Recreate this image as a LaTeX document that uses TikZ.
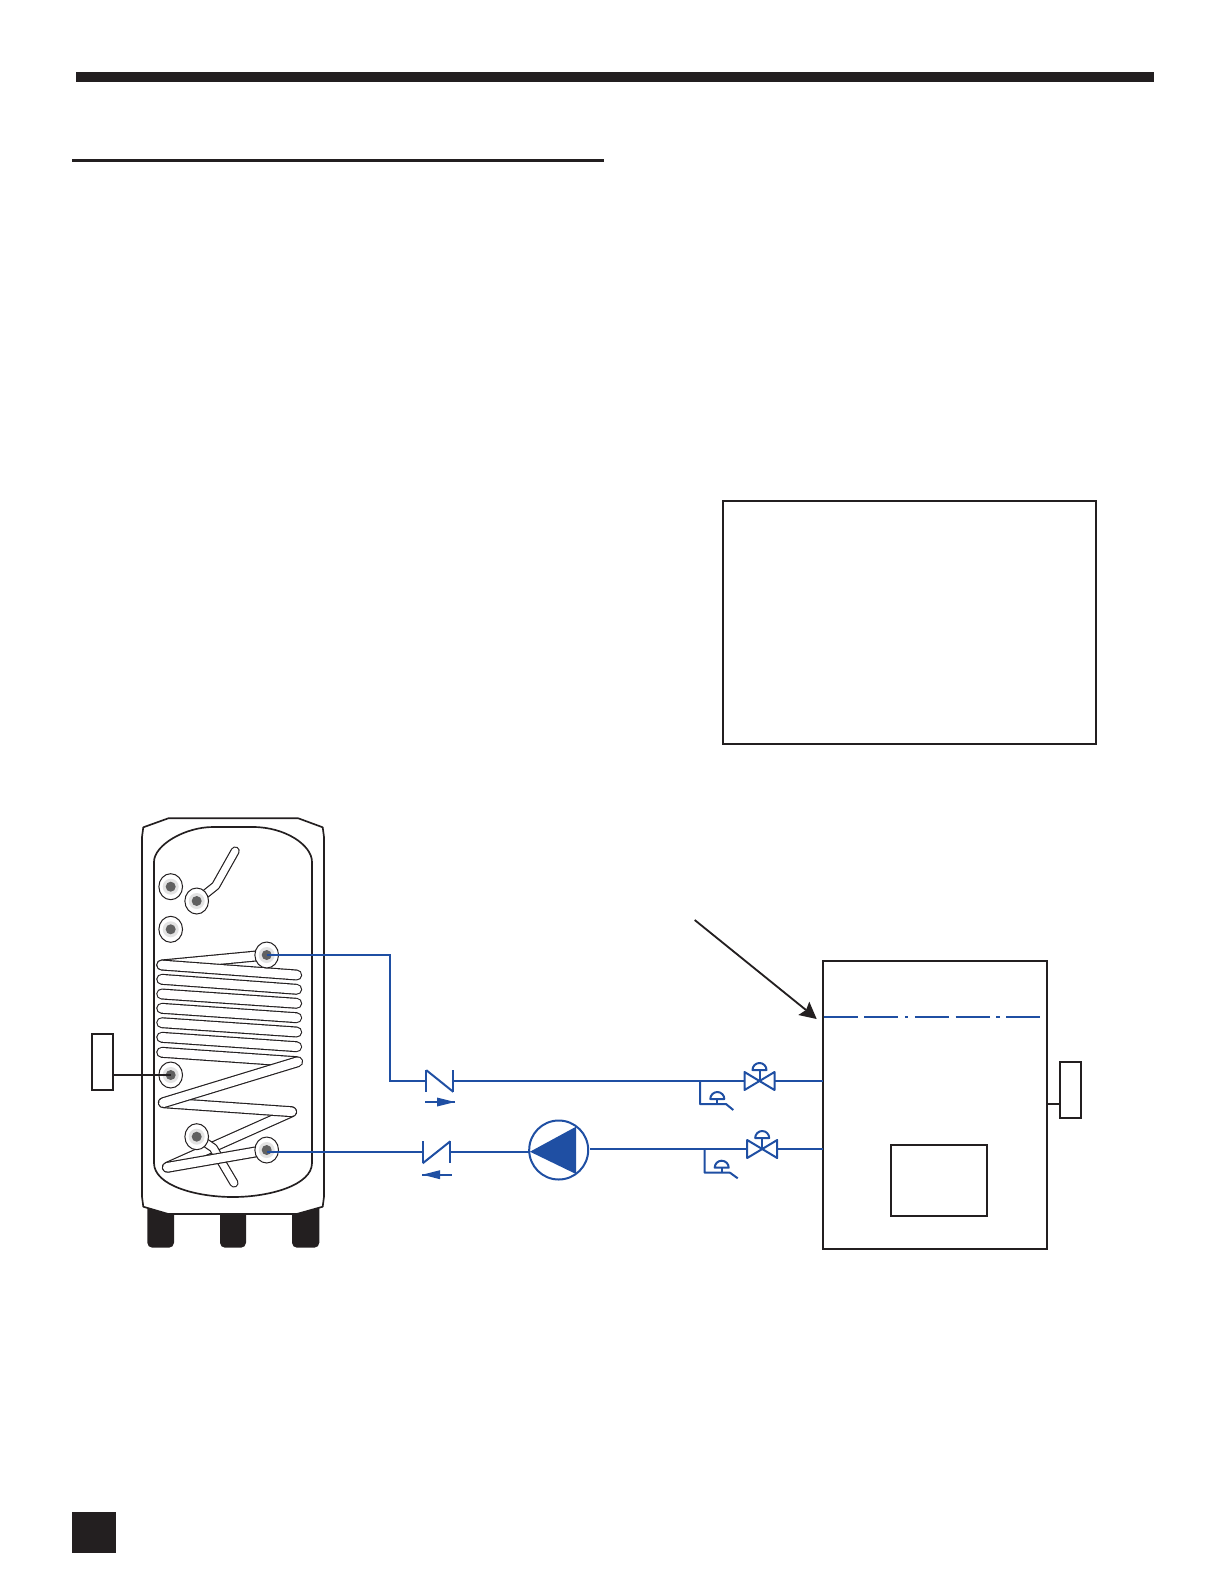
\documentclass[tikz,border=0pt]{standalone}
\usetikzlibrary{shapes.geometric}
\definecolor{ink}{HTML}{231F20}
\definecolor{pipeblue}{HTML}{1F4FA3}
\tikzset{
  box/.style={draw=ink,line width=1.2pt,fill=white,inner sep=0pt,outer sep=0pt},
  pipe/.style={draw=pipeblue,line width=1.2pt},
  sym/.style={draw=pipeblue,line width=1.2pt,line join=round},
  wire/.style={draw=ink,line width=1.2pt},
  tube/.style={draw=ink,double=white,line width=0.7pt,double distance=5.2pt,line cap=round,line join=round},
  diptube/.style={draw=ink,double=white,line width=0.7pt,double distance=4.1pt,line cap=round,line join=round},
  shell/.style={draw=ink,line width=1pt,line join=round},
  portout/.style={ellipse,draw=ink,line width=0.6pt,fill=white,minimum width=14.2pt,minimum height=15.6pt,inner sep=0pt,outer sep=0pt},
  ghost/.style={inner sep=0pt,outer sep=0pt},
  footshape/.style={fill=ink,rounded corners=3pt}
}
\newcommand{\tankport}[3]{%
  \node[portout] (#1) at (#2,#3) {};
  \fill[gray!22] (#1.center) circle[radius=4.8pt];
  \fill[black!62] (#1.center) circle[radius=3pt];
}
\newcommand{\dome}[3]{% name, x, y of flat edge centre
  \coordinate (#1) at (#2,#3);
  \draw[sym] ([xshift=-4.2pt]#1) arc[start angle=180,end angle=0,radius=4.2pt] -- cycle;
}
\newcommand{\gatevalve}[4]{% name, x, y, y of dome
  \node[ghost,minimum width=18pt,minimum height=10.8pt] (#1) at (#2,#3) {};
  \draw[sym] (#1.north west) -- (#1.south east) -- (#1.north east) -- (#1.south west) -- cycle;
  \dome{#1d}{#2}{#4}
  \draw[sym] (#1.center) -- (#1d);
}
\begin{document}
\begin{tikzpicture}[x=0.6pt,y=-0.6pt]
\useasboundingbox (0,0) rectangle (1224,1584);
% page furniture
\fill[ink] (76,72) rectangle (1154,82);
\fill[ink] (72,159.3) rectangle (604,161.8);
\node[box,minimum width=223.8pt,minimum height=145.8pt] (frame) at (909.3,622.5) {};
\fill[ink] (72.3,1512.3) rectangle (116,1552.7);
% feet
\fill[footshape] (147.3,1200) -- (147.3,1247.7) -- (174,1247.7) -- (174,1200) -- cycle;
\fill[footshape] (220,1200) -- (220,1247.7) -- (246,1247.7) -- (246,1200) -- cycle;
\fill[footshape] (292,1200) -- (292,1247.7) -- (319.3,1247.7) -- (319.3,1200) -- cycle;
% tank shell
\draw[shell,fill=white] (168.3,818.3) -- (298.3,818.3) -- (322.7,827.3) -- (324,837) -- (324,1196.7) -- (322.7,1206.7) -- (296.7,1214) -- (168.3,1214) -- (143.3,1206.7) -- (142,1196.7) -- (142,837) -- (143.3,827.3) -- cycle;
\draw[shell,fill=white] (154,1163) -- (154,862) .. controls (154,845) and (185,827) .. (213,827) -- (253,827) .. controls (285,827) and (312,845) .. (312,862) -- (312,1163) .. controls (312,1185) and (270,1197) .. (233,1197) .. controls (195,1197) and (154,1185) .. (154,1163) -- cycle;
% ports positions
\coordinate (p2c) at (196.7,901);
\coordinate (p4c) at (266.7,955);
\coordinate (p6c) at (196.7,1136.7);
\coordinate (p7c) at (266.7,1150);
% dip tube top
\draw[diptube] (p2c) -- (215.7,885.7) -- (235.2,851);
% coil
\draw[tube] (p4c) -- (161.7,965);
\foreach \ya/\yb in {965/975,979.3/989.3,994/1003.3,1008.3/1017.7,1022.7/1032,1037.3/1046.7,1052.3/1061.7}
  \draw[tube] (161.7,\ya) -- (296.7,\yb);
\draw[tube] (291.7,1111.7) -- (167.3,1167.3);
\draw[diptube] (p6c) -- (213.3,1148) -- (234,1183);
\draw[tube] (167.3,1167.3) -- (p7c);
\draw[tube] (163.3,1102.7) -- (291.7,1111.7);
\draw[tube] (297.7,1061.7) -- (163.3,1102.7);
% ports
\tankport{p1}{170.7}{886.7}
\tankport{p2}{196.7}{901}
\tankport{p3}{170.7}{929.3}
\tankport{p4}{266.7}{955}
\tankport{p5}{170.7}{1075}
\tankport{p6}{196.7}{1136.7}
\tankport{p7}{266.7}{1150}
% left sensor box
\node[box,minimum width=12.9pt,minimum height=33.6pt] (sensL) at (102.5,1062) {};
\draw[wire] (sensL.east |- p5.center) -- (p5.center);
% boiler
\node[box,minimum width=134.4pt,minimum height=172.8pt] (boiler) at (935,1105) {};
\node[box,minimum width=57.6pt,minimum height=42.4pt] (burner) at (939,1180.3) {};
\node[box,minimum width=12.6pt,minimum height=33.9pt] (sensR) at (1070.5,1090) {};
\coordinate (sensRa) at (1060,1103.7);
\draw[wire] (boiler.east |- sensRa) -- (sensRa);
\coordinate (lvlA) at (823.5,1017);
\coordinate (lvlB) at (1040,1017);
\draw[draw=pipeblue,line width=1.2pt,dash pattern=on 20.4pt off 4pt on 20.4pt off 4pt on 2pt off 4pt] (lvlA) -- (lvlB);
% pointer arrow
\coordinate (ptrS) at (694.7,920);
\coordinate (ptrT) at (816.7,1019);
\draw[draw=ink,line width=1.1pt] (ptrS) -- (806,1010);
\fill[ink] (ptrT) -- (809.3,1001.7) -- (806,1010) -- (798.3,1015) -- cycle;
% check valves
\node[ghost,minimum width=16.2pt,minimum height=13pt] (chkU) at (439.8,1081) {};
\draw[sym] (chkU.north west) -- (chkU.south west);
\draw[sym] (chkU.north west) -- (chkU.south east);
\draw[sym] (chkU.north east) -- (chkU.south east);
\node[ghost,minimum width=16.6pt,minimum height=13.2pt] (chkL) at (436.5,1152.3) {};
\draw[sym] (chkL.north west) -- (chkL.south west);
\draw[sym] (chkL.south west) -- (chkL.north east);
\draw[sym] (chkL.north east) -- (chkL.south east);
% flow arrows
\coordinate (fuA) at (425,1102);\coordinate (fuB) at (455,1102);
\draw[sym] (fuA) -- (fuB);
\fill[pipeblue] (fuB) -- (437,1097.5) -- (437,1106.5) -- cycle;
\coordinate (flA) at (451.7,1174.7);\coordinate (flB) at (422.3,1174.7);
\draw[sym] (flA) -- (flB);
\fill[pipeblue] (flB) -- (440,1170.2) -- (440,1179.2) -- cycle;
% pump
\node[circle,draw=pipeblue,line width=1.2pt,minimum size=35.4pt,inner sep=0pt,outer sep=0pt,fill=white] (pump) at (558.7,1150) {};
\fill[pipeblue] (530,1151.7) -- (576,1126.7) -- (576,1174) -- cycle;
\coordinate (pumpOut) at (590,1149);
% gate valves
\gatevalve{vU}{759.5}{1081}{1070}
\gatevalve{vL}{762.2}{1149}{1138}
% pipes
\coordinate (bendU) at (390,955);
\draw[pipe] (p4.center) -- (bendU) -- (bendU |- chkU.west) -- (chkU.west);
\draw[pipe] (chkU.east) -- (vU.west);
\draw[pipe] (vU.east) -- (boiler.west |- vU.east);
\draw[pipe] (p7.center |- chkL.west) -- (chkL.west);
\draw[pipe] (chkL.east) -- (chkL.east -| pump.west);
\draw[pipe] (pumpOut) -- (vL.west);
\draw[pipe] (vL.east) -- (boiler.west |- vL.east);
% drain taps
\coordinate (tapU) at (700,1081);
\draw[sym] (tapU) -- (700,1104) -- (726,1104) -- (733.3,1110);
\dome{tapUd}{717.3}{1099}
\draw[sym] (tapUd) -- (717.3,1104);
\coordinate (tapL) at (704.7,1149);
\draw[sym] (tapL) -- (704.7,1172.7) -- (730,1172.7) -- (737.7,1178.3);
\dome{tapLd}{721.7}{1167.7}
\draw[sym] (tapLd) -- (721.7,1172.7);
\end{tikzpicture}
\end{document}
